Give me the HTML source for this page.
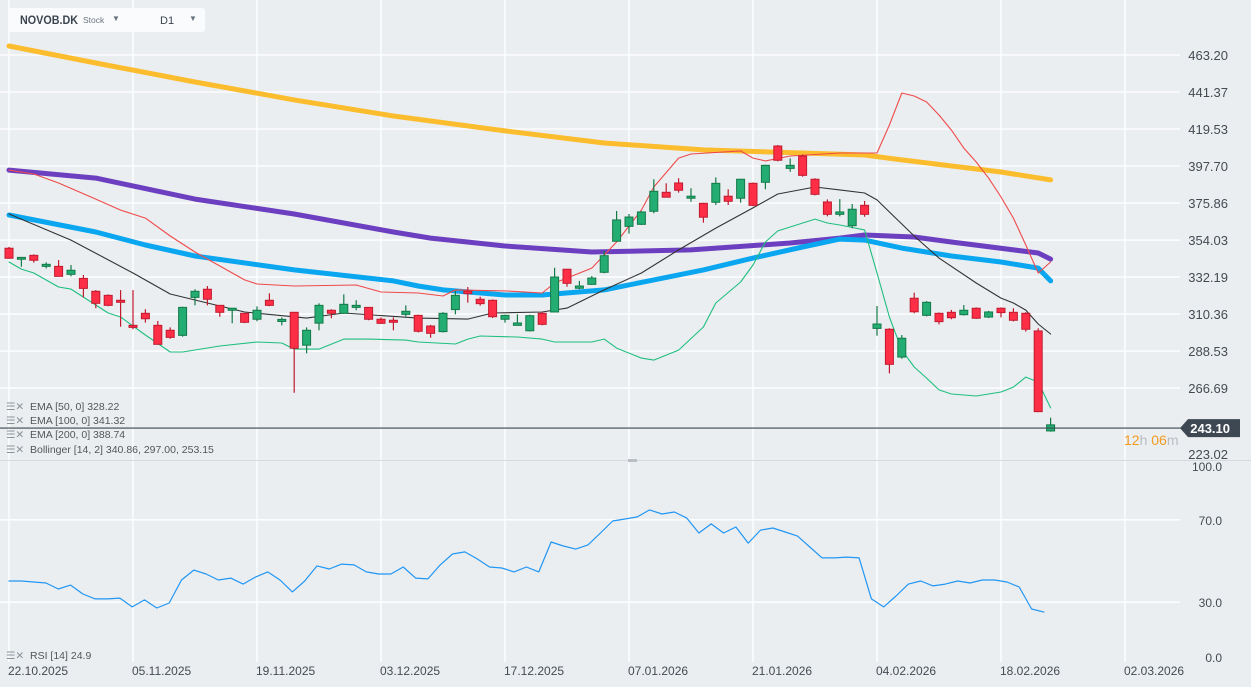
<!DOCTYPE html>
<html><head><meta charset="utf-8"><style>
html,body{margin:0;padding:0;background:#ebeef1;}
svg{display:block;font-family:"Liberation Sans",sans-serif;}
</style></head><body>
<svg id="chart" width="1251" height="687" viewBox="0 0 1251 687">
<rect x="0" y="0" width="1251" height="687" fill="#ebeef1"/>
<g id="grid"></g>
<g id="series"></g>
<g id="axes"></g>
<g>
<rect x="8" y="8" width="197" height="24" rx="3" fill="#fafbfc"/>
<text x="20" y="24" font-size="12" font-weight="bold" fill="#3a4550" textLength="58" lengthAdjust="spacingAndGlyphs">NOVOB.DK</text>
<text x="83" y="23" font-size="8.5" fill="#6b7480">Stock</text>
<text x="112" y="21" font-size="8" fill="#6b7480">▼</text>
<text x="160" y="24" font-size="11" fill="#3a4550">D1</text>
<text x="189" y="21" font-size="8" fill="#6b7480">▼</text>
</g>
<g font-size="10.5" fill="#555">
<text x="6" y="410" fill="#8a929a">☰✕</text><text x="30" y="410">EMA  [50, 0]  328.22</text>
<text x="6" y="424" fill="#8a929a">☰✕</text><text x="30" y="424">EMA  [100, 0]  341.32</text>
<text x="6" y="438" fill="#8a929a">☰✕</text><text x="30" y="438">EMA  [200, 0]  388.74</text>
<text x="6" y="453" fill="#8a929a">☰✕</text><text x="30" y="453">Bollinger  [14, 2]  340.86,  297.00,  253.15</text>
<text x="6" y="659" fill="#8a929a">☰✕</text><text x="30" y="659">RSI  [14]  24.9</text>
</g>
<g>
<text x="1124" y="445" font-size="14"><tspan fill="#f29a1f">12</tspan><tspan fill="#b8bec4">h </tspan><tspan fill="#f29a1f">06</tspan><tspan fill="#b8bec4">m</tspan></text>
</g>
</svg>
<script>
const open=[349.2,342.7,345.0,338.5,338.5,333.8,331.4,323.8,321.4,318.5,303.7,310.8,303.7,300.8,297.8,320.2,325.0,315.5,312.6,310.8,307.3,318.5,306.0,311.4,292.0,305.0,312.6,310.8,314.3,314.3,307.3,306.7,310.2,309.6,303.3,300.0,313.0,323.9,319.1,318.5,307.3,303.7,300.5,310.8,311.6,336.8,325.6,327.9,335.0,353.3,362.1,363.3,371.0,382.2,387.7,378.7,375.7,376.3,379.9,378.7,387.5,388.1,409.5,396.3,403.6,389.9,376.5,369.2,362.5,374.5,301.9,301.4,285.0,319.7,309.6,310.8,311.4,310.0,313.8,308.6,313.8,311.4,310.8,300.4,241.4];
const close=[343.3,343.8,342.1,339.7,332.6,336.2,325.5,316.7,315.5,317.3,302.5,307.6,292.5,296.6,314.3,323.8,319.1,311.4,313.8,305.5,312.6,315.5,307.2,290.2,300.8,315.5,310.8,316.1,315.5,307.3,304.9,305.5,312.0,300.2,299.0,310.8,321.4,322.4,316.5,308.8,309.6,305.1,309.4,304.3,332.2,328.5,326.9,331.6,344.8,365.9,367.6,370.6,382.8,379.3,383.4,379.9,367.5,387.5,376.9,389.9,374.5,398.1,401.1,398.1,392.2,381.0,369.2,370.6,372.2,369.2,304.5,280.7,296.1,311.7,317.3,305.9,308.2,312.6,307.9,311.6,311.2,306.7,301.4,252.8,245.0];
const high=[350,344,345.6,340.9,342.2,339.3,333.4,324.5,322,324.5,324.5,313.2,306.3,302.5,314.7,325.0,326.9,315.5,313.8,311,314.9,322.6,308.4,311.6,302.5,316.7,313.2,322.0,318.5,314.5,308.4,308.4,315.5,310,304,311.5,324.0,326.3,320.6,319,310,310.2,310,311.7,337.7,337,329.9,332.8,347.6,371.2,369.4,371,389.9,387.5,390.5,384.6,376,391.0,384.0,390,388,398.5,410.1,402.2,404.5,390.5,378.0,378.2,375.3,377.1,315.1,302,298.0,323.0,318.0,311.3,312.8,315.7,314.3,312.2,314.3,313.8,311.5,302.0,249.2];
const low=[343,338.3,340.7,337.3,332.6,332.6,320.2,313.8,315,302.9,301.4,305.3,292.5,295.8,297.0,315.5,315.5,308.8,304.9,305,306.1,315,303.7,263.9,287.2,300.8,307.9,310.5,312.6,306.7,304.5,300.8,309.0,299.5,296.4,299.5,310.2,317.1,315.3,308,305.3,303.7,300,303.7,311.6,326.5,325,327.5,334.4,353.3,357.8,363,369.8,379.3,382.0,376.6,364.3,374.7,374.7,376.1,374,384.0,400.5,394.3,391.4,380.4,368,368,361,367.8,297.6,275.4,284,310.8,309,304.3,307.3,309.5,307.5,308,308.4,306,300,252.5,241];

const ema200Idx=[0,7,15,23,31,40,48,56,64,69,72,80,84];
const ema200Val=[468.5,458.5,447.3,436.7,427.2,418.4,411.3,407.2,405.4,404.2,401.3,394.2,389.5];
const ema100Idx=[0,7,15,23,31,34,40,47,55,63,67,69,73,76,83,84];
const ema100Val=[395.3,390.6,378.2,369.4,358.8,355.2,350.5,347.0,348.2,352.3,355.2,357.0,355.8,352.9,346.4,342.8];
const ema50Idx=[0,7,11,15,23,31,33,35,40,43,48,52,56,60,64,67,69,72,76,80,83,84];
const ema50Val=[368.8,358.8,351.1,344.6,336.4,329.9,326.9,324.6,321.6,321.6,324.6,330.5,336.4,343.4,349.9,354.6,354.0,349.3,344.6,341.1,337.5,329.9];
const bbMidIdx=[0,5,10,13,19,24,27,33,37,39,43,45,48,51,54,57,60,62,65,67,69,70,71,73,75,78,80,81,82,83,84];
const bbMidVal=[369.4,354.0,334.6,322.2,311.6,308.0,311.0,308.0,307.4,311.0,311.6,313.9,324.6,334.6,348.2,361.1,373.0,381.2,385.3,383.6,381.8,377.7,370.6,356.4,343.4,328.7,319.8,316.9,312.7,304.5,298.6];
const bbUpIdx=[0,2,4,7,9,11,13,15,17,19,20,23,28,30,33,35,36,40,43,44,47,49,51,52,54,55,59,60,61,63,67,70,71,72,73,74,75,76,77,78,79,80,81,82,83,84];
const bbUpVal=[395.3,393.0,387.7,378.2,371.7,367.0,356.4,347.0,338.7,330.5,328.1,326.9,327.5,323.4,322.8,321.0,324.6,324.0,322.8,328.7,337.5,352.9,371.7,385.3,402.4,404.8,406.6,402.4,400.7,403.6,405.4,405.4,421.9,440.8,439.0,435.5,427.8,418.9,408.3,400.1,390.6,379.4,367.0,351.1,334.6,341.1];
const bbLowIdx=[0,1,2,4,5,8,9,11,13,14,17,20,22,23,25,27,29,32,33,36,37,38,41,43,44,47,48,49,51,52,54,56,57,59,60,61,62,63,65,66,67,69,70,71,72,73,74,75,76,78,80,81,82,83,84];
const bbLowVal=[341.1,336.9,334.6,326.3,325.1,311.0,308.6,298.0,288.0,288.0,291.5,293.9,293.3,289.7,289.7,295.6,295.6,295.0,293.9,292.7,295.6,297.4,296.8,295.6,293.9,293.9,295.6,290.3,284.4,283.2,289.1,302.7,316.9,329.3,339.3,352.9,359.4,361.7,366.4,364.1,362.9,360.0,334.6,308.6,289.1,279.1,272.6,265.6,263.2,262.0,264.4,267.3,273.2,270.3,255.0];
const rsiVal=[40.3,40.3,39.8,39.3,36.4,38.3,34.0,31.6,31.6,32.0,27.7,31.1,27.2,29.6,40.8,45.6,43.7,40.8,41.7,38.8,42.2,44.7,40.8,35.0,40.3,47.6,46.1,48.5,48.1,44.7,43.7,43.7,47.1,41.7,41.3,48.1,53.4,54.4,51.0,47.1,46.6,44.7,47.1,44.7,59.2,57.3,55.8,57.8,63.6,69.4,70.4,71.4,74.8,72.8,73.8,70.9,63.6,68.0,63.6,66.5,58.7,65.0,66.0,64.1,62.1,56.8,51.5,51.5,51.9,51.5,31.6,27.7,33.0,38.8,40.3,37.9,38.8,40.3,39.3,40.8,40.8,39.8,37.4,26.7,25.2];
const priceTicks=[463.20,441.37,419.53,397.70,375.86,354.03,332.19,310.36,288.53,266.69];
const rsiTicks=[100.0,70.0,30.0,0.0];
const dateLabels=["22.10.2025","05.11.2025","19.11.2025","03.12.2025","17.12.2025","07.01.2026","21.01.2026","04.02.2026","18.02.2026","02.03.2026"];
const lastPrice=243.10;

const NS="http://www.w3.org/2000/svg";
const xS=i=>9+12.4*i;
const xR=i=>9+12.32*i;
const yP=p=>55+(463.2-p)*1.695;
const yR=v=>664-2.06*v;
function mk(tag,attrs,parent){const e=document.createElementNS(NS,tag);for(const k in attrs)e.setAttribute(k,attrs[k]);parent.appendChild(e);return e;}
const grid=document.getElementById('grid'),ser=document.getElementById('series'),axes=document.getElementById('axes');

priceTicks.forEach((t,k)=>{
  const y=yP(t);
  const l=mk('line',{x1:0,x2:1180,y1:y,y2:y,stroke:'#ffffff','stroke-width':1.3},grid);
  
  
  const tx=mk('text',{x:1228,y:y+5,'text-anchor':'end','font-size':13,fill:'#444b52'},axes);
  tx.textContent=t.toFixed(2);
  
  
});
[223.02].forEach(t=>{
  const tx=mk('text',{x:1228,y:459,'text-anchor':'end','font-size':13,fill:'#444b52'},axes);
  tx.textContent=t.toFixed(2);
  
  
});
for(let k=0;k<dateLabels.length;k++){
  const x=9+124*k;
  const l=mk('line',{x1:x,x2:x,y1:0,y2:662,stroke:'#ffffff','stroke-width':1.3},grid);
  
  
  const tx=mk('text',{x:x-1,y:675,'font-size':12,fill:'#444b52'},axes);
  tx.textContent=dateLabels[k];
  
  
}
rsiTicks.forEach(t=>{
  const y=yR(t);
  if(t>0&&t<100){const l=mk('line',{x1:0,x2:1180,y1:y,y2:y,stroke:'#ffffff','stroke-width':1.3},grid);
  
  }
  const ly=t===100?471:(t===0?662:y+5);
  const tx=mk('text',{x:1222,y:ly,'text-anchor':'end','font-size':12,fill:'#444b52'},axes);
  tx.textContent=t.toFixed(1);
  
  
});
const sep=mk('line',{x1:0,x2:1251,y1:460.5,y2:460.5,stroke:'#d6dadf','stroke-width':1},axes);


const hd=mk('rect',{x:628,y:459,width:9,height:3,fill:'#b8bec4'},axes);



function line(idx,vals,ys,xs,color,w,name){
  const pts=vals.map((v,k)=>xs(idx?idx[k]:k).toFixed(1)+','+ys(v).toFixed(1)).join(' ');
  const p=mk('polyline',{points:pts,fill:'none',stroke:color,'stroke-width':w,'stroke-linejoin':'round','stroke-linecap':'round'},ser);
  
  
}
line(ema200Idx,ema200Val,yP,xS,'#fbbd2e',5,'ema-200-line');
line(ema100Idx,ema100Val,yP,xS,'#6c3fc0',5,'ema-100-line');
line(ema50Idx,ema50Val,yP,xS,'#0aa6f0',5,'ema-50-line');
line(bbUpIdx,bbUpVal,yP,xS,'#ee4a4a',1.1,'bollinger-upper');
line(bbMidIdx,bbMidVal,yP,xS,'#333333',1.1,'bollinger-middle');
line(bbLowIdx,bbLowVal,yP,xS,'#1fbf7f',1.1,'bollinger-lower');

for(let i=0;i<open.length;i++){
  const up=close[i]>=open[i];
  const x=xS(i);
  const g=mk('g',{},ser);
  
  
  const col=up?'#23ad72':'#ff2e47', bd=up?'#137a48':'#c01a2e';
  mk('line',{x1:x,x2:x,y1:yP(high[i]),y2:yP(low[i]),stroke:bd,'stroke-width':1.2},g);
  const top=yP(Math.max(open[i],close[i])),bot=yP(Math.min(open[i],close[i]));
  mk('rect',{x:x-4,y:top,width:8,height:Math.max(1.5,bot-top),fill:col,stroke:bd,'stroke-width':1},g);
}
line(null,rsiVal,yR,xR,'#2196f3',1.2,'rsi-line');

const ly=yP(lastPrice);
const pl=mk('line',{x1:0,x2:1185,y1:ly,y2:ly,stroke:'#3d4852','stroke-width':1.2},axes);


const tag=mk('polygon',{points:`1180,${ly} 1188,${ly-9} 1240,${ly-9} 1240,${ly+9} 1188,${ly+9}`,fill:'#3d4852'},axes);


const tt=mk('text',{x:1230,y:ly+5,'text-anchor':'end','font-size':13,'font-weight':'bold',fill:'#ffffff'},axes);
tt.textContent=lastPrice.toFixed(2);


</script>
</body></html>
